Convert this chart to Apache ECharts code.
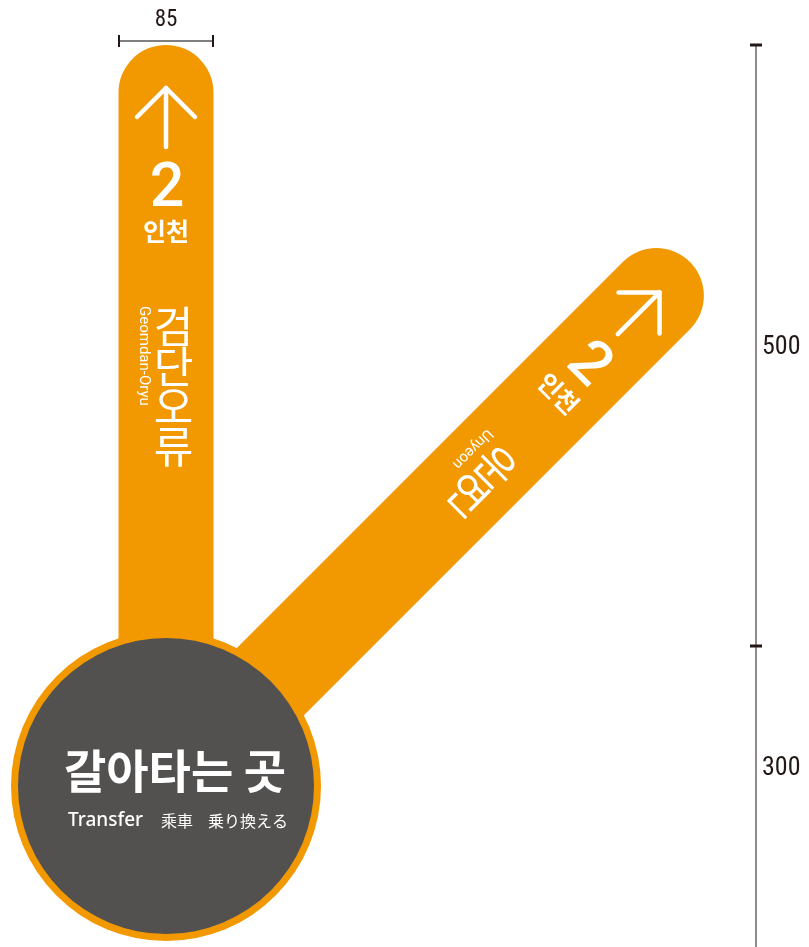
<!DOCTYPE html>
<html><head><meta charset="utf-8">
<script src="https://cdn.jsdelivr.net/npm/echarts@6/dist/echarts.min.js"></script>
<style>html,body{margin:0;padding:0;background:#fff}#c{width:809px;height:947px}</style>
</head><body><div id="c"></div>
<script>
// ---- data ----
const branchAngles = [0, 45];            // direction of each branch (deg clockwise from up)
const lineNumbers = ['2', '2'];
const directions = ['인천', '인천'];
const stationsKo = ['검단오류', '운연'];
const stationsEn = ['Geomdan-Oryu', 'Unyeon'];
const hubTitle = ['갈아타는 곳'];
const hubSubtitles = ['Transfer', '乘車', '乗り換える'];
const dimLabels = ['85', '500', '300'];

// ---- styles ----
const ORANGE = '#F29800';
const DARK = '#535150';
const INK = '#231815';
const KR = '"Noto Sans CJK KR", "Noto Sans", sans-serif';
const NUM = '"Liberation Sans Narrow", "Roboto Condensed", "Liberation Sans", Arial, sans-serif';

const hubCenter = [166, 786];

const chart = echarts.init(document.getElementById('c'), null, {renderer: 'canvas'});

function renderBranch(params, api) {
  const c = api.coord([api.value(0), api.value(1)]);
  const ang = api.value(2);
  const i = api.value(3);
  const kids = [
    {type: 'rect', shape: {x: -47.5, y: -741, width: 95, height: 741, r: [47.5, 47.5, 0, 0]}, style: {fill: ORANGE}},
    {type: 'polyline', shape: {points: [[0, -698], [0, -639]]}, style: {stroke: '#fff', lineWidth: 4.5, lineCap: 'round', fill: null}},
    {type: 'polyline', shape: {points: [[-29, -669], [0, -698], [29, -669]]}, style: {stroke: '#fff', lineWidth: 4.5, lineCap: 'round', lineJoin: 'round', fill: null}},
    {type: 'text', x: 1, y: -595, style: {text: lineNumbers[i], fill: '#fff', fontSize: 61, fontFamily: 'Roboto, "Noto Sans", sans-serif', fontWeight: 500, align: 'center', verticalAlign: 'middle'}},
    {type: 'text', x: 0, y: -555, style: {text: directions[i], fill: '#fff', fontSize: 25, fontFamily: KR, fontWeight: 'bold', align: 'center', verticalAlign: 'middle'}},
    {type: 'text', x: -22, y: -480, rotation: -Math.PI / 2, style: {text: stationsEn[i], fill: '#fff', fontSize: 15, fontFamily: 'Roboto, "Noto Sans", sans-serif', align: 'left', verticalAlign: 'middle'}}
  ];
  Array.from(stationsKo[i]).forEach(function (ch, k) {
    kids.push({type: 'text', x: 7.5, y: -459 + 40 * k, style: {text: ch, fill: '#fff', fontSize: 43, fontFamily: KR, fontWeight: 'normal', align: 'center', verticalAlign: 'middle'}});
  });
  return {type: 'group', x: c[0], y: c[1], rotation: -ang * Math.PI / 180, children: kids};
}

function renderHub(params, api) {
  const c = api.coord([api.value(0), api.value(1)]);
  return {
    type: 'group', x: c[0], y: c[1],
    children: [
      {type: 'circle', shape: {cx: 0, cy: 0, r: 155}, style: {fill: ORANGE}},
      {type: 'circle', shape: {cx: 0, cy: 0, r: 148}, style: {fill: DARK}},
      {type: 'text', x: 9, y: -15, style: {text: hubTitle[0], fill: '#fff', fontSize: 46, fontFamily: KR, fontWeight: 'bold', align: 'center', verticalAlign: 'middle'}},
      {type: 'text', x: -98, y: 35, style: {text: hubSubtitles[0], fill: '#fff', fontSize: 19, fontFamily: '"Noto Sans", sans-serif', fontWeight: 500, align: 'left', verticalAlign: 'middle'}},
      {type: 'text', x: -5, y: 35, style: {text: hubSubtitles[1], fill: '#fff', fontSize: 16, fontFamily: '"Noto Sans CJK TC", "Noto Sans CJK SC", sans-serif', align: 'left', verticalAlign: 'middle'}},
      {type: 'text', x: 42, y: 35, style: {text: hubSubtitles[2], fill: '#fff', fontSize: 16, fontFamily: '"Noto Sans CJK JP", sans-serif', align: 'left', verticalAlign: 'middle'}}
    ]
  };
}

function renderDims(params, api) {
  const i = api.value(0);
  const kids = [];
  if (i === 0) {
    const a = api.coord([119, 41]), b = api.coord([213, 41]);
    kids.push({type: 'line', shape: {x1: a[0], y1: a[1], x2: b[0], y2: b[1]}, style: {stroke: '#555', lineWidth: 1.5}});
    kids.push({type: 'line', shape: {x1: a[0], y1: a[1] - 6, x2: a[0], y2: a[1] + 6}, style: {stroke: INK, lineWidth: 2}});
    kids.push({type: 'line', shape: {x1: b[0], y1: b[1] - 6, x2: b[0], y2: b[1] + 6}, style: {stroke: INK, lineWidth: 2}});
    kids.push({type: 'text', x: (a[0] + b[0]) / 2, y: 20, style: {text: dimLabels[0], fill: INK, fontSize: 23, fontFamily: NUM, align: 'center', verticalAlign: 'middle'}});
  } else {
    const top = api.coord([756, 45]), mid = api.coord([756, 646]), bot = api.coord([756, 947]);
    kids.push({type: 'line', shape: {x1: top[0], y1: top[1], x2: bot[0], y2: bot[1]}, style: {stroke: '#6a6666', lineWidth: 1.5}});
    kids.push({type: 'line', shape: {x1: top[0] - 6, y1: top[1], x2: top[0] + 6, y2: top[1]}, style: {stroke: INK, lineWidth: 3}});
    kids.push({type: 'line', shape: {x1: mid[0] - 6, y1: mid[1], x2: mid[0] + 6, y2: mid[1]}, style: {stroke: INK, lineWidth: 3}});
    kids.push({type: 'text', x: 762, y: 347, style: {text: dimLabels[1], fill: INK, fontSize: 26, fontFamily: NUM, align: 'left', verticalAlign: 'middle'}});
    kids.push({type: 'text', x: 762, y: 768, style: {text: dimLabels[2], fill: INK, fontSize: 26, fontFamily: NUM, align: 'left', verticalAlign: 'middle'}});
  }
  return {type: 'group', children: kids};
}

chart.setOption({
  animation: false,
  backgroundColor: '#fff',
  grid: {left: 0, right: 0, top: 0, bottom: 0},
  xAxis: {type: 'value', min: 0, max: 809, show: false},
  yAxis: {type: 'value', min: 0, max: 947, inverse: true, show: false},
  series: [
    {type: 'custom', renderItem: renderDims, data: [[0], [1]], silent: true},
    {type: 'custom', renderItem: renderBranch, data: branchAngles.map((a, i) => [hubCenter[0], hubCenter[1], a, i]), silent: true},
    {type: 'custom', renderItem: renderHub, data: [[hubCenter[0], hubCenter[1]]], silent: true}
  ]
});
</script>
</body></html>
